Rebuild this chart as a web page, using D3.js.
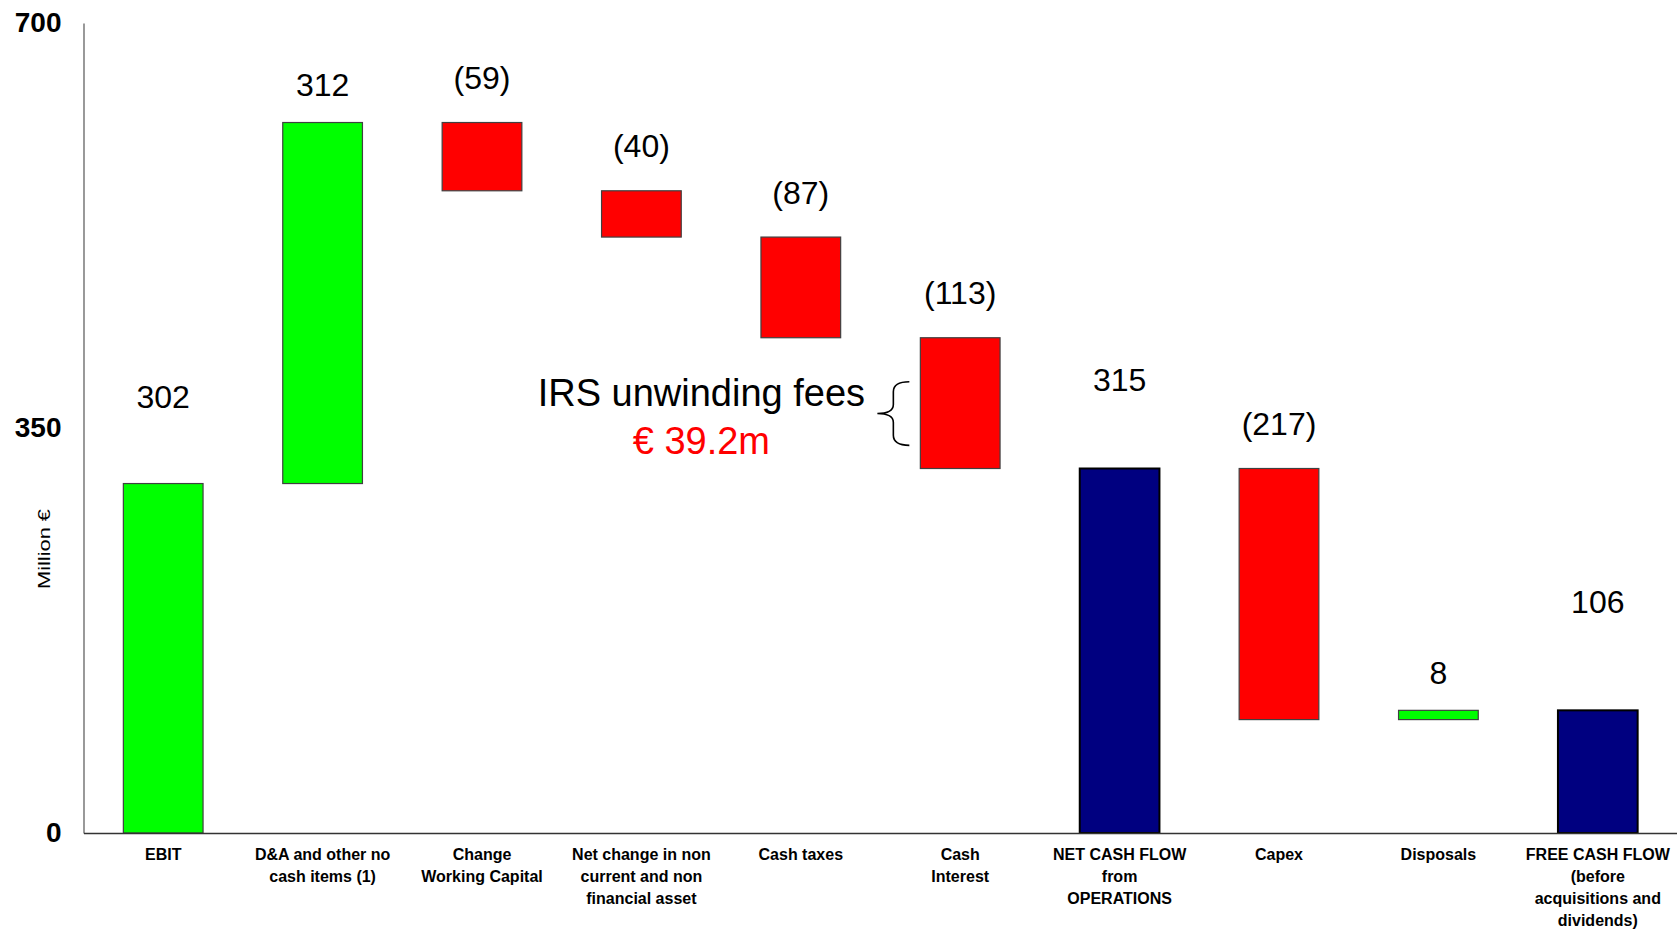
<!DOCTYPE html>
<html>
<head>
<meta charset="utf-8">
<script src="https://cdn.jsdelivr.net/npm/d3@7"></script>
<style>
  html, body { margin: 0; padding: 0; background: #fff; }
  svg { display: block; font-family: "Liberation Sans", Arial, Helvetica, sans-serif; }
</style>
</head>
<body>
<svg id="chart" width="1677" height="930"></svg>
<script>
// Cash flow bridge, million €
const categories = [
  "EBIT",
  "D&A and other no\ncash items (1)",
  "Change\nWorking Capital",
  "Net change in non\ncurrent and non\nfinancial asset",
  "Cash taxes",
  "Cash\nInterest",
  "NET CASH FLOW\nfrom\nOPERATIONS",
  "Capex",
  "Disposals",
  "FREE CASH FLOW\n(before\nacquisitions and\ndividends)"
];
const values = [302, 312, -59, -40, -87, -113, 315, -217, 8, 106];
// start/subtotal/end bars rise from zero, up/down bars float on the running total
const kinds = ["start", "up", "down", "down", "down", "down", "subtotal", "down", "up", "end"];
const yTicks = [0, 350, 700];

// IRS unwinding fees callout on the cash interest step
const irsLabel = "IRS unwinding fees";
const irsAmount = "€ 39.2m";
const irsStep = "Cash\nInterest";
const irsBraceSpan = [335, 390];

const fill = { start: "#00ff00", up: "#00ff00", down: "#ff0000", subtotal: "#000080", end: "#000080" };
const edge = { start: "#404040", up: "#404040", down: "#404040", subtotal: "#000000", end: "#000000" };
const labelGap = { start: 87, up: 38, down: 45, subtotal: 89, end: 109 };

const svg = d3.select("#chart");

const x = d3.scaleBand()
  .domain(categories)
  .range([83.5, 1677.5])
  .paddingInner(0.5)
  .paddingOuter(0.25);

const y = d3.scaleLinear()
  .domain([0, 700])
  .range([833, 23]);

// running totals for the waterfall
let running = 0;
const steps = categories.map((c, i) => {
  const v = values[i];
  const k = kinds[i];
  let lo, hi;
  if (k === "start" || k === "subtotal" || k === "end") {
    lo = 0; hi = v; running = v;
  } else {
    const next = running + v;
    lo = Math.min(running, next); hi = Math.max(running, next);
    running = next;
  }
  return { cat: c, value: v, kind: k, lo, hi };
});

// bars
svg.append("g").selectAll("rect")
  .data(steps)
  .join("rect")
  .attr("x", d => x(d.cat))
  .attr("width", x.bandwidth())
  .attr("y", d => y(d.hi))
  .attr("height", d => y(d.lo) - y(d.hi))
  .attr("fill", d => fill[d.kind])
  .attr("stroke", d => edge[d.kind])
  .attr("stroke-width", d => (d.kind === "subtotal" || d.kind === "end") ? 2 : 1.2);

// value labels
const fmt = v => v < 0 ? `(${Math.abs(v)})` : `${v}`;
svg.append("g").selectAll("text")
  .data(steps)
  .join("text")
  .attr("x", d => x(d.cat) + x.bandwidth() / 2)
  .attr("y", d => y(d.hi) - labelGap[d.kind] + 11.5)
  .attr("text-anchor", "middle")
  .attr("font-size", 32)
  .attr("fill", "#000")
  .text(d => fmt(d.value));

// y axis
const yAxis = svg.append("g")
  .attr("transform", "translate(83.5,0)")
  .call(d3.axisLeft(y).tickValues(yTicks).tickSize(0).tickPadding(22).tickFormat(d3.format("d")));
yAxis.select(".domain").attr("stroke", "#808080").attr("stroke-width", 1.6);
yAxis.selectAll("text")
  .attr("font-family", "'Liberation Sans', Arial, sans-serif")
  .attr("font-size", 28)
  .attr("font-weight", "bold")
  .attr("fill", "#000");

svg.append("text")
  .attr("transform", "translate(50,549) rotate(-90)")
  .attr("text-anchor", "middle")
  .attr("font-size", 17)
  .attr("textLength", 80)
  .attr("lengthAdjust", "spacingAndGlyphs")
  .attr("fill", "#000")
  .text("Million €");

// x axis with wrapped category names
const xAxis = svg.append("g")
  .attr("transform", "translate(0,833)")
  .call(d3.axisBottom(x).tickSize(0).tickSizeOuter(0).tickPadding(0));
xAxis.select(".domain").attr("stroke", "#333").attr("stroke-width", 1.6);
xAxis.selectAll(".tick text")
  .attr("font-family", "'Liberation Sans', Arial, sans-serif")
  .attr("font-size", 16)
  .attr("font-weight", "bold")
  .attr("fill", "#000")
  .attr("dy", null)
  .attr("y", 0)
  .each(function (d) {
    const t = d3.select(this);
    t.text(null);
    d.split("\n").forEach((line, i) => {
      t.append("tspan")
        .attr("x", 0)
        .attr("y", 27 + i * 22)
        .text(line);
    });
  });

// brace and callout for the IRS fees inside cash interest
const bx = x(irsStep);
const bTop = y(irsBraceSpan[1]);
const bBot = y(irsBraceSpan[0]);
const bMid = (bTop + bBot) / 2;
const endX = bx - 11, spineX = bx - 27, tipX = bx - 43;
const brace = d3.path();
brace.moveTo(endX, bTop);
brace.quadraticCurveTo(spineX, bTop, spineX, bTop + 10);
brace.lineTo(spineX, bMid - 9);
brace.quadraticCurveTo(spineX, bMid, tipX, bMid);
brace.quadraticCurveTo(spineX, bMid, spineX, bMid + 9);
brace.lineTo(spineX, bBot - 10);
brace.quadraticCurveTo(spineX, bBot, endX, bBot);
svg.append("path")
  .attr("d", brace.toString())
  .attr("fill", "none")
  .attr("stroke", "#000")
  .attr("stroke-width", 1.6);

const cx = tipX - 176;
svg.append("text")
  .attr("x", cx)
  .attr("y", bMid - 8)
  .attr("text-anchor", "middle")
  .attr("font-size", 38)
  .attr("fill", "#000")
  .text(irsLabel);
svg.append("text")
  .attr("x", cx)
  .attr("y", bMid + 40)
  .attr("text-anchor", "middle")
  .attr("font-size", 38)
  .attr("fill", "#ff0000")
  .text(irsAmount);
</script>
</body>
</html>
